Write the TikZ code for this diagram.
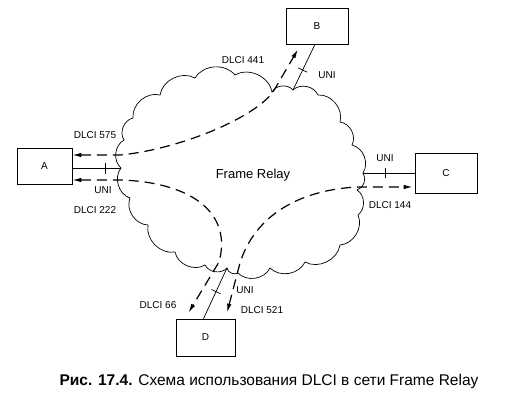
\documentclass[tikz,border=0pt]{standalone}
\usepackage{fontspec}
\setmainfont{Liberation Sans}
\usetikzlibrary{arrows.meta,calc}
\begin{document}
\begin{tikzpicture}[x=1pt,y=-1pt,
  box/.style={draw,line width=0.7pt,inner sep=0pt,font=\fontsize{10}{12}\selectfont},
  lbl/.style={font=\fontsize{10}{12}\selectfont,inner sep=0pt},
  link/.style={line width=0.7pt},
  pvc/.style={line width=1.2pt,dash pattern=on 10pt off 6pt,{Latex[length=9pt,width=4.5pt]}-{Latex[length=9pt,width=4.5pt]}},
  cloudline/.style={line width=0.7pt},
  tick/.style={line width=0.7pt},
  bump/.style={bend left=55}]
\useasboundingbox (0,0) rectangle (508,407);
% boxes
\node[box,minimum width=55pt,minimum height=36pt] (A) at (44.5,166) {A};
\node[box,minimum width=62pt,minimum height=36pt] (B) at (317,26) {B};
\node[box,minimum width=62pt,minimum height=40pt] (C) at (446,173) {C};
\node[box,minimum width=59pt,minimum height=37pt] (D) at (205.5,337.5) {D};
% cloud contact points
\coordinate (cA) at (121,168);
\coordinate (cB) at (293,90);
\coordinate (cC) at (363,173);
\coordinate (cD) at (227,268);
% cloud
\draw[cloudline] (cA) to[bump] (124,140) to[bump] (133,118) to[bump] (160,95)
  to[bump] (195,78) to[bump] (235,75) to[bump] (272,92) to[bump] (cB)
  to[bump] (318,95) to[bump] (340,122) to[bump] (352,145) to[bump] (cC)
  to[bump] (357,190) to[bump] (358,215) to[bump] (340,245) to[bump] (305,262)
  to[bump] (270,268) to[bump] (238,273) to[bump] (cD) to[bump] (205,265)
  to[bump] (175,252) to[bump] (148,225) to[bump] (130,198) to[bump] (cA);
% solid access links
\draw[link] ([yshift=-2pt]A.east) -- (cA);
\draw[tick] (105,163) -- (105,174);
\draw[link] ([xshift=-2pt]B.south) -- (cB);
\draw[tick] (298.1,67.85) -- (307.1,72.15);
\draw[link] (cC) -- (C.west);
\draw[tick] (385,168) -- (385,178);
\draw[link] ([xshift=-2pt]D.north) -- (cD);
\draw[tick] (211.5,289.5) -- (220.5,293.7);
% virtual circuits
\draw[pvc] ([yshift=11pt]A.east) -- (120,155) .. controls (175,150) and (252,120) .. (273,92) -- ([xshift=-19pt,yshift=-5pt]B.south);
\draw[pvc] ([yshift=-14pt]A.east) -- (122,180) .. controls (195,183) and (232,215) .. (219,262) -- ([xshift=-17pt,yshift=6pt]D.north);
\draw[pvc] ([xshift=21.5pt,yshift=6pt]D.north) -- (240,263) .. controls (255,215) and (300,190) .. (357,187) -- ([xshift=-2pt,yshift=-14pt]C.west);
% labels
\node[lbl] (l575) at (95,135) {DLCI 575};
\node[lbl] (luA) at (103,190) {UNI};
\node[lbl] (l222) at (95,210) {DLCI 222};
\node[lbl] (l441) at (243,60) {DLCI 441};
\node[lbl] (luB) at (327,75) {UNI};
\node[lbl] (luC) at (385,158) {UNI};
\node[lbl] (l144) at (390,205) {DLCI 144};
\node[lbl] (luD) at (245,290) {UNI};
\node[lbl] (l66) at (158,305) {DLCI 66};
\node[lbl] (l521) at (262,310) {DLCI 521};
\node[font=\fontsize{13}{15}\selectfont] (fr) at (253,175) {Frame Relay};
\node[font=\fontsize{15.5}{18}\selectfont] (cap) at (269,381) {\textbf{Рис. 17.4.} Схема использования DLCI в сети Frame Relay};
\end{tikzpicture}
\end{document}
